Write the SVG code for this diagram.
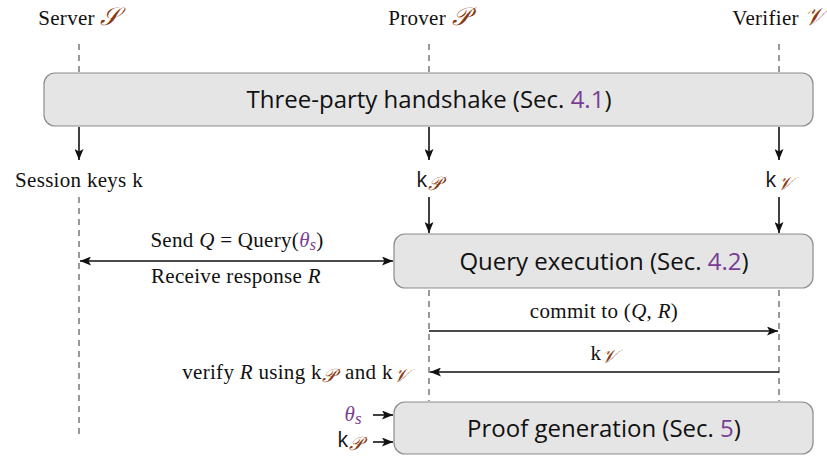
<svg xmlns="http://www.w3.org/2000/svg" width="827" height="456" viewBox="0 0 827 456">
  <defs>
    <marker id="arr" viewBox="0 0 11 9" refX="11" refY="4.5" markerWidth="11" markerHeight="9" markerUnits="userSpaceOnUse" orient="auto-start-reverse">
      <path d="M0,0 L11,4.5 L0,9 L2.5,4.5 Z" fill="#111"/>
    </marker>
    <style>
      .box { fill: #e5e5e5; stroke: #8c8c8c; stroke-width: 1.2; }
      .life { stroke: #333; stroke-width: 1; stroke-dasharray: 6 5; fill: none; }
      .flow { stroke: #111; stroke-width: 1.6; fill: none; }
      .lbl { font-family: "Liberation Serif", "DejaVu Serif", serif; font-size: 21px; letter-spacing: 0.3px; fill: #111; }
      .big { font-family: "Open Sans", "Liberation Sans", sans-serif; font-size: 24px; fill: #111; }
      .sf { font-family: "Open Sans", "Liberation Sans", sans-serif; }
      .scr { fill: #8a3a12; font-family: "DejaVu Serif", "Liberation Serif", serif; font-style: italic; }
      .hdr { font-size: 25px; }
      .sub { font-size: 19px; }
      .ref { fill: #7a3d96; }
      .it { font-style: italic; }
    </style>
  </defs>

  <!-- party headers -->
  <g id="server">
    <text class="lbl" x="79" y="25" text-anchor="middle">Server <tspan class="scr hdr">𝒮</tspan></text>
  </g>
  <g id="prover">
    <text class="lbl" x="429" y="25" text-anchor="middle">Prover <tspan class="scr hdr">𝒫</tspan></text>
  </g>
  <g id="verifier">
    <text class="lbl" x="779" y="25" text-anchor="middle">Verifier <tspan class="scr hdr">𝒱</tspan></text>
  </g>

  <!-- lifelines -->
  <g id="lifelines">
    <line class="life" x1="79" y1="44" x2="79" y2="72"/>
    <line class="life" x1="429" y1="44" x2="429" y2="72"/>
    <line class="life" x1="779" y1="44" x2="779" y2="72"/>
    <line class="life" x1="79" y1="197" x2="79" y2="434"/>
    <line class="life" x1="429" y1="290" x2="429" y2="401"/>
    <line class="life" x1="779" y1="290" x2="779" y2="401"/>
  </g>

  <!-- process boxes -->
  <g id="handshake">
    <rect class="box" x="44" y="73" width="769" height="53" rx="11"/>
    <text class="big" x="429" y="108" text-anchor="middle">Three-party handshake (Sec. <tspan class="ref">4.1</tspan>)</text>
  </g>
  <g id="query">
    <rect class="box" x="394" y="234" width="419" height="54" rx="11"/>
    <text class="big" x="604" y="270" text-anchor="middle">Query execution (Sec. <tspan class="ref">4.2</tspan>)</text>
  </g>
  <g id="proof">
    <rect class="box" x="394" y="402" width="419" height="52" rx="11"/>
    <text class="big" x="604" y="437" text-anchor="middle">Proof generation (Sec. <tspan class="ref">5</tspan>)</text>
  </g>

  <!-- key outputs -->
  <g id="keys-s">
    <text class="lbl" x="79" y="187" text-anchor="middle">Session keys k</text>
  </g>
  <g id="keys-p">
    <text class="lbl" x="429" y="187" text-anchor="middle"><tspan class="sf">k</tspan><tspan class="scr sub" dy="3">𝒫</tspan></text>
  </g>
  <g id="keys-v">
    <text class="lbl" x="779" y="187" text-anchor="middle"><tspan class="sf">k</tspan><tspan class="scr sub" dy="3">𝒱</tspan></text>
  </g>

  <!-- connectors -->
  <g id="connectors">
    <line class="flow" x1="79" y1="127" x2="79" y2="160" marker-end="url(#arr)"/>
    <line class="flow" x1="429" y1="127" x2="429" y2="160" marker-end="url(#arr)"/>
    <line class="flow" x1="779" y1="127" x2="779" y2="160" marker-end="url(#arr)"/>
    <line class="flow" x1="429" y1="197" x2="429" y2="233" marker-end="url(#arr)"/>
    <line class="flow" x1="779" y1="197" x2="779" y2="233" marker-end="url(#arr)"/>
    <line class="flow" x1="80" y1="261" x2="393" y2="261" marker-start="url(#arr)" marker-end="url(#arr)"/>
    <line class="flow" x1="429" y1="331" x2="778" y2="331" marker-end="url(#arr)"/>
    <line class="flow" x1="779" y1="372" x2="430" y2="372" marker-end="url(#arr)"/>
    <line class="flow" x1="373" y1="415" x2="393" y2="415" marker-end="url(#arr)"/>
    <line class="flow" x1="373" y1="442" x2="393" y2="442" marker-end="url(#arr)"/>
  </g>

  <!-- connector labels -->
  <g id="labels">
    <text class="lbl" x="237" y="247" text-anchor="middle">Send <tspan class="it">Q</tspan> = Query(<tspan class="it ref">θ<tspan font-size="16" dy="3">s</tspan></tspan><tspan dy="-3">)</tspan></text>
    <text class="lbl" x="236" y="283" text-anchor="middle">Receive response <tspan class="it">R</tspan></text>
    <text class="lbl" x="604" y="318" text-anchor="middle">commit to (<tspan class="it">Q</tspan>, <tspan class="it">R</tspan>)</text>
    <text class="lbl" x="604" y="360" text-anchor="middle">k<tspan class="scr sub" dy="3">𝒱</tspan></text>
    <text class="lbl" x="409" y="379" text-anchor="end">verify <tspan class="it">R</tspan> using k<tspan class="scr sub" dy="3">𝒫</tspan><tspan dx="9" dy="-3">and k</tspan><tspan class="scr sub" dy="3">𝒱</tspan></text>
    <text class="lbl" x="362" y="421" text-anchor="end" font-size="24"><tspan class="it ref">θ<tspan font-size="17" dy="3">s</tspan></tspan></text>
    <text class="lbl" x="363" y="447" text-anchor="end"><tspan class="sf">k</tspan><tspan class="scr sub" dy="3">𝒫</tspan></text>
  </g>
</svg>
